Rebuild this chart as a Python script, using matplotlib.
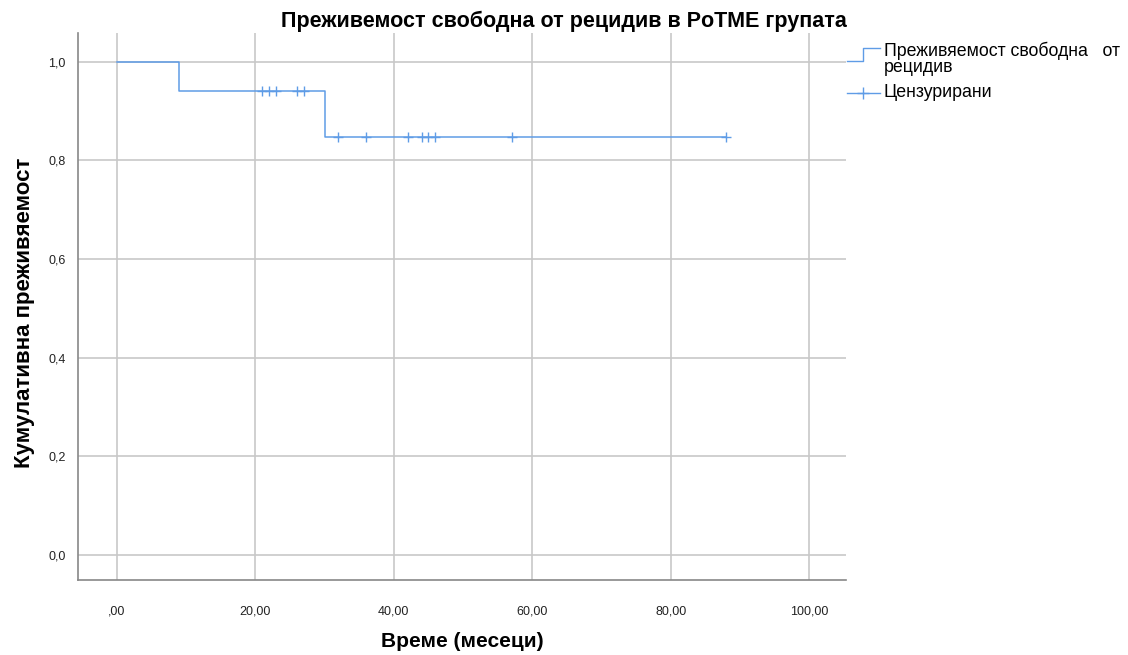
import matplotlib
matplotlib.use("Agg")
import matplotlib.pyplot as plt
from matplotlib.lines import Line2D
from matplotlib.legend_handler import HandlerBase

plt.rcParams['font.family'] = ['Liberation Sans', 'DejaVu Sans']

# Kaplan-Meier стъпки
step_times = [0, 9, 9, 30, 30, 88]
step_surv = [1.0, 1.0, 0.941, 0.941, 0.847, 0.847]
# цензурирани наблюдения
cens_times = [21, 22, 23, 26, 27, 32, 36, 42, 44, 45, 46, 57, 88]
cens_surv = [0.941] * 5 + [0.847] * 8

xticks = [0, 20, 40, 60, 80, 100]
xtick_labels = [",00", "20,00", "40,00", "60,00", "80,00", "100,00"]
yticks = [0.0, 0.2, 0.4, 0.6, 0.8, 1.0]
ytick_labels = ["0,0", "0,2", "0,4", "0,6", "0,8", "1,0"]

blue = '#5f9ce6'
grid_c = '#c8c8c8'


class StepHandler(HandlerBase):
    def create_artists(self, legend, orig_handle, xd, yd, w, h, fontsize, trans):
        xs = [xd, xd + w * 0.5, xd + w * 0.5, xd + w]
        ys = [yd + h * 0.35, yd + h * 0.35, yd + h * 1.35, yd + h * 1.35]
        ln = Line2D(xs, ys, color=blue, lw=1, transform=trans)
        return [ln]


class CensHandler(HandlerBase):
    def create_artists(self, legend, orig_handle, xd, yd, w, h, fontsize, trans):
        y = yd + h * 0.3
        ln = Line2D([xd, xd + w], [y, y], color=blue, lw=1, transform=trans)
        mk = Line2D([xd + w / 2], [y], color=blue, marker='+', ms=9, mew=1,
                    ls='none', transform=trans)
        return [ln, mk]


fig = plt.figure(figsize=(11.28, 6.55), dpi=100)
ax = fig.add_axes([0.0691, 0.1145, 0.681, 0.8355])

ax.plot(step_times, step_surv, color=blue, lw=1.1)
ax.plot(cens_times, cens_surv, ls='none', marker='+', ms=7.5, mew=1, color=blue)

ax.set_xlim(-5.6, 105.3)
ax.set_ylim(-0.051, 1.059)
ax.set_xticks(xticks)
ax.set_xticklabels(xtick_labels)
ax.set_yticks(yticks)
ax.set_yticklabels(ytick_labels)
ax.tick_params(length=0, labelsize=9, colors='#222222')
ax.tick_params(axis='x', pad=18)
ax.tick_params(axis='y', pad=9)
ax.grid(True, color=grid_c, lw=1.2)
ax.set_axisbelow(True)
for s in ['top', 'right']:
    ax.spines[s].set_visible(False)
for s in ['left', 'bottom']:
    ax.spines[s].set_color('#888888')
    ax.spines[s].set_linewidth(1.2)

ax.set_xlabel("Време (месеци)", fontsize=15, fontweight='bold', labelpad=11)
ax.set_ylabel("Кумулативна преживяемост", fontsize=16, fontweight='bold')
ax.yaxis.set_label_coords(-0.056, 0.488)
fig.suptitle("Преживемост свободна от рецидив в PoTME групата",
             fontsize=15.5, fontweight='bold', x=0.5, y=0.968, va='center')

h1 = Line2D([], [], color=blue)
h2 = Line2D([], [], color=blue, marker='+')
leg = fig.legend([h1, h2],
                 ["Преживяемост свободна   от\nрецидив", "Цензурирани"],
                 handler_map={h1: StepHandler(), h2: CensHandler()},
                 loc='upper left', bbox_to_anchor=(0.7509, 0.937),
                 frameon=False, fontsize=12.8, handlelength=1.85,
                 handletextpad=0.22, labelspacing=0.45,
                 borderpad=0, borderaxespad=0)
for t in leg.get_texts():
    t.set_linespacing(0.95)

fig.savefig("out.png", dpi=100)
